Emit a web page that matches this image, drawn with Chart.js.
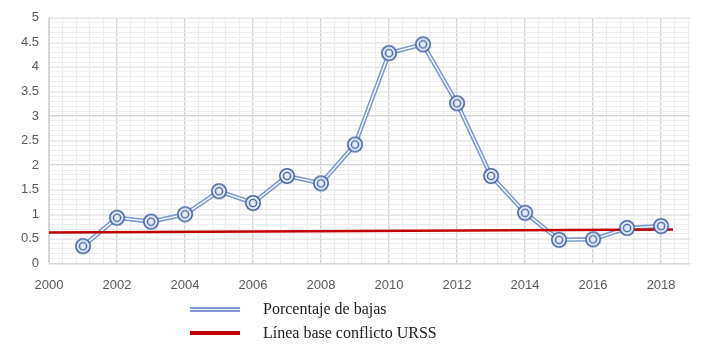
<!DOCTYPE html>
<html lang="es">
<head>
  <meta charset="UTF-8">
  <title>Porcentaje de bajas</title>
  <script src="https://cdn.jsdelivr.net/npm/chart.js"></script>
  <style>
    body { margin: 0; background: #fff; }
    #wrap { position: relative; width: 708px; height: 350px; }
    #legend { position: absolute; left: 190px; top: 297px; font-family: "Liberation Serif", serif; font-size: 16px; color: #222; }
    .item { display: flex; align-items: center; height: 24px; }
    .sym { width: 50px; margin-right: 23px; }
    .dbl { height: 5px; background: #7f9bd2; position: relative; }
    .dbl::after { content: ""; position: absolute; left: 0; right: 0; top: 2px; height: 1px; background: #fff; }
    .red { height: 4px; background: #c00000; }
  </style>
</head>
<body>
<div id="wrap">
  <canvas id="chart" width="708" height="350"></canvas>
  <div id="legend">
    <div class="item"><div class="sym dbl"></div>Porcentaje de bajas</div>
    <div class="item"><div class="sym red"></div>Línea base conflicto URSS</div>
  </div>
</div>
<script>
  const years = [2001, 2002, 2003, 2004, 2005, 2006, 2007, 2008, 2009, 2010, 2011, 2012, 2013, 2014, 2015, 2016, 2017, 2018];
  const bajas = [0.35, 0.93, 0.85, 1.0, 1.47, 1.23, 1.78, 1.63, 2.42, 4.28, 4.46, 3.26, 1.78, 1.03, 0.48, 0.49, 0.72, 0.76];
  const baseX = [2000, 2018.35];
  const baseY = [0.63, 0.69];
  const xTicks = [2000, 2002, 2004, 2006, 2008, 2010, 2012, 2014, 2016, 2018];

  const points = years.map((y, i) => ({ x: y, y: bajas[i] }));
  const basePoints = baseX.map((x, i) => ({ x: x, y: baseY[i] }));

  // marker: double ring
  const mk = document.createElement('canvas');
  mk.width = 18; mk.height = 18;
  const m = mk.getContext('2d');
  m.fillStyle = '#e4eaf6';
  m.strokeStyle = '#4565a6';
  m.lineWidth = 1.6;
  m.beginPath(); m.arc(9, 9, 7.2, 0, Math.PI * 2); m.fill(); m.stroke();
  m.lineWidth = 1.4;
  m.beginPath(); m.arc(9, 9, 3.6, 0, Math.PI * 2); m.stroke();

  const tickFont = { family: 'Liberation Sans', size: 13 };
  const xMax = 2018.85;
  const minorX = [];
  for (let i = 0; i <= 47; i++) minorX.push({ value: 2000 + i * 0.4 });

  new Chart(document.getElementById('chart'), {
    type: 'scatter',
    data: {
      datasets: [
        { data: points, showLine: true, borderColor: '#7f9bd2', borderWidth: 4.5, pointRadius: 0, order: 4 },
        { data: points, showLine: true, borderColor: '#ffffff', borderWidth: 1.3, pointRadius: 0, order: 3 },
        { data: basePoints, showLine: true, borderColor: '#c00000', borderWidth: 2.5, pointRadius: 0, order: 2 },
        { data: points, showLine: false, pointStyle: mk, order: 1 }
      ]
    },
    options: {
      responsive: false,
      animation: false,
      layout: { padding: { top: 8, right: 18, bottom: 43, left: 0 } },
      plugins: { legend: { display: false }, tooltip: { enabled: false } },
      scales: {
        x: {
          min: 2000, max: xMax,
          ticks: { color: '#595959', font: tickFont, padding: 14, autoSkip: false, maxRotation: 0,
            callback: v => String(v) },
          grid: { color: '#d6d6d6', lineWidth: 1.5, drawTicks: false },
          border: { color: '#d6d6d6' },
          afterBuildTicks: a => { a.ticks = xTicks.map(v => ({ value: v })); }
        },
        xMinor: {
          type: 'linear', position: 'bottom', display: true,
          min: 2000, max: xMax,
          ticks: { display: false },
          grid: { color: '#ececec', lineWidth: 1, drawTicks: false },
          border: { display: false },
          afterBuildTicks: a => { a.ticks = minorX; },
          afterFit: a => { a.height = 0; }
        },
        y: {
          min: 0, max: 5,
          ticks: { stepSize: 0.5, color: '#595959', font: tickFont, padding: 10,
            callback: v => String(Math.round(v * 10) / 10) },
          grid: { color: '#d6d6d6', lineWidth: 1.5, drawTicks: false },
          border: { color: '#d6d6d6' },
          afterFit: a => { a.width = 49; }
        },
        yMinor: {
          type: 'linear', position: 'left', display: true,
          min: 0, max: 5,
          ticks: { display: false, stepSize: 0.1 },
          grid: { color: '#eeeeee', lineWidth: 1, drawTicks: false },
          border: { display: false },
          afterFit: a => { a.width = 0; }
        }
      }
    }
  });
</script>
</body>
</html>
